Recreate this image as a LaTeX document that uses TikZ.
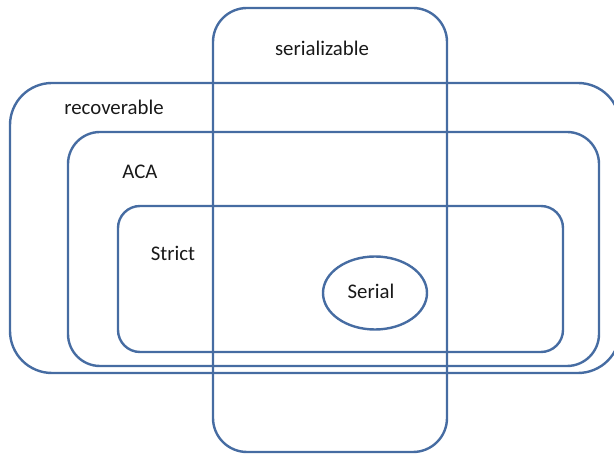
\documentclass[tikz,border=0pt]{standalone}
\usepackage{fontspec}
\setmainfont{Carlito}
\usetikzlibrary{shapes.geometric}
\definecolor{edge}{RGB}{70,108,162}
\definecolor{txt}{RGB}{25,25,25}
\begin{document}
\begin{tikzpicture}[x=1pt,y=-1pt,
  setbox/.style={draw=edge,line width=2.4pt},
  lbl/.style={text=txt,font=\fontsize{20.8}{24}\selectfont,inner sep=0pt}]
\useasboundingbox (0,0) rectangle (614,454);
\clip (0,0) rectangle (614,454);
\draw[setbox,rounded corners=42pt] (10,83) rectangle (620,373);
\draw[setbox,rounded corners=32pt] (68,132) rectangle (599,366);
\draw[setbox,rounded corners=22pt] (118,206) rectangle (563,352);
\draw[setbox,rounded corners=34pt] (213,8) rectangle (447,452);
\node[setbox,ellipse,minimum width=104pt,minimum height=73pt,inner sep=0pt] (serial) at (375,293) {};
\node[lbl] (t1) at (322,48) {serializable};
\node[lbl] (t2) at (114,107) {recoverable};
\node[lbl] (t3) at (140,172) {ACA};
\node[lbl] (t4) at (173,253) {Strict};
\node[lbl] (t5) at (371,291) {Serial};
\end{tikzpicture}
\end{document}
